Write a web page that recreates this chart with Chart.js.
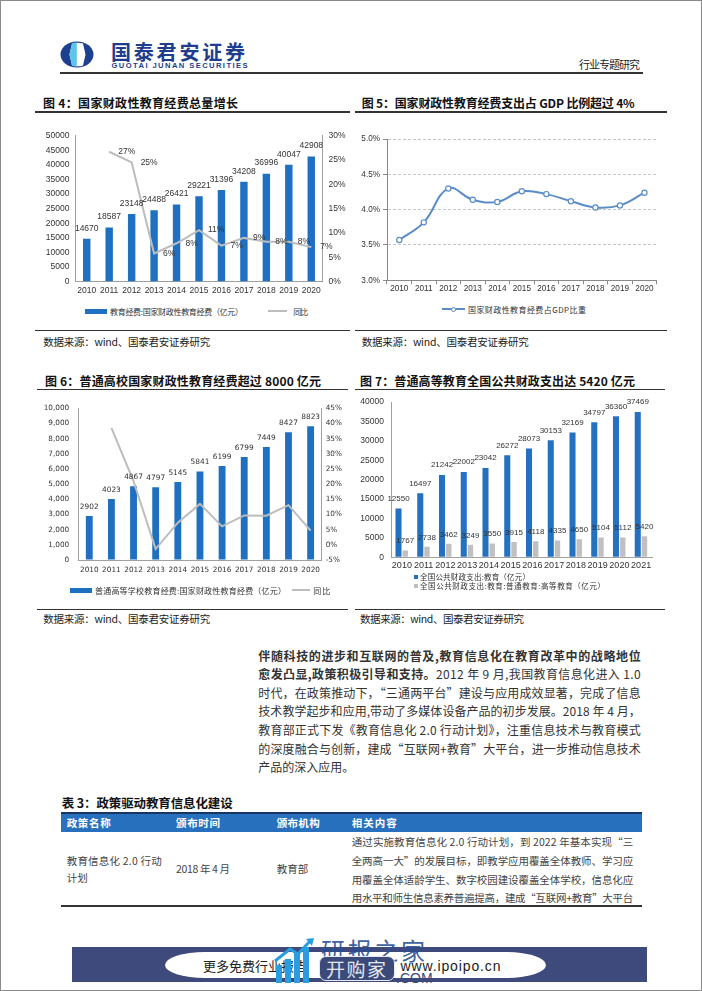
<!DOCTYPE html>
<html><head><meta charset="utf-8">
<script src="https://cdn.jsdelivr.net/npm/chart.js@4.4.1/dist/chart.umd.min.js"></script>
<style>
html,body{margin:0;padding:0;background:#fff;}
#page{position:relative;width:702px;height:991px;overflow:hidden;background:#fff;font-family:'Noto Sans CJK SC',sans-serif;}
#frame{position:absolute;left:0;top:0;width:700px;height:989px;border:1px solid #8a8a8a;pointer-events:none;z-index:50;}
.t{position:absolute;white-space:nowrap;}
canvas{position:absolute;}
</style></head><body>
<div id="page">
<div id="frame"></div>
<canvas id="c4" width="320" height="180" style="left:30px;top:120px;width:320px;height:180px"></canvas>
<canvas id="c5" width="340" height="180" style="left:355px;top:120px;width:340px;height:180px"></canvas>
<canvas id="c6" width="320" height="185" style="left:30px;top:395px;width:320px;height:185px"></canvas>
<canvas id="c7" width="340" height="185" style="left:355px;top:390px;width:340px;height:185px"></canvas>
</div>
<script>
// ---------------- DATA ----------------
const years = ['2010','2011','2012','2013','2014','2015','2016','2017','2018','2019','2020'];
const years21 = ['2010','2011','2012','2013','2014','2015','2016','2017','2018','2019','2020','2021'];
// 图4 国家财政性教育经费（亿元）与同比(%)
const eduSpend = [14670,18587,23148,24488,26421,29221,31396,34208,36996,40047,42908];
const eduSpendYoY = [null,26.7,24.5,5.8,7.9,10.6,7.4,9.0,8.2,8.2,7.1];
// 图5 国家财政性教育经费占GDP比重(%)
const gdpShare = [3.57,3.82,4.30,4.14,4.11,4.26,4.22,4.12,4.03,4.06,4.24];
// 图6 普通高等学校教育经费:国家财政性教育经费（亿元）与同比(%)
const collegeSpend = [2902,4023,4867,4797,5145,5841,6199,6799,7449,8427,8823];
const collegeYoY = [null,38.6,21.0,-1.4,7.3,13.5,6.1,9.7,9.6,13.1,4.7];
// 图7 全国公共财政支出:教育 / 高等教育（亿元）
const publicEdu = [12550,16497,21242,22002,23042,26272,28073,30153,32169,34797,36360,37469];
const publicHigher = [1767,2738,3462,3249,3550,3915,4118,4335,4650,5104,5112,5420];
// tick settings
const c4LeftTicks = {min:0,max:50000,step:5000};
const c4RightTicks = {min:0,max:30,step:5};
const c5Ticks = {min:3,max:5,step:0.5};
const c6LeftTicks = {min:0,max:10000,step:1000};
const c6RightTicks = {min:-5,max:45,step:5};
const c7Ticks = {min:0,max:40000,step:5000};

// ---------------- PAGE TEXT ----------------
const page = document.getElementById('page');
const CJK = "'Noto Sans CJK SC',sans-serif";
const LAT = "'Liberation Sans',Arial,sans-serif";
function fitW(e,w){e.style.letterSpacing='0px';const nat=e.getBoundingClientRect().width;const n=[...e.textContent].length;if(n>1)e.style.letterSpacing=((w-nat)/(n-1))+'px';}
function txt(s,x,cy,size,o={}){
  const e=document.createElement('div');e.className='t';
  const lh=Math.round(size*1.4);
  e.style.left=x+'px';e.style.top=(cy-lh/2)+'px';e.style.fontSize=size+'px';e.style.lineHeight=lh+'px';
  e.style.color=o.color||'#333';e.style.fontWeight=o.weight||400;e.style.fontFamily=o.family||CJK;
  if(o.z)e.style.zIndex=o.z;
  if(o.html)e.innerHTML=s;else e.textContent=s;
  page.appendChild(e);
  if(o.w)fitW(e,o.w);
  return e;
}
function rect(x,y,w,h,css){const e=document.createElement('div');e.style.position='absolute';e.style.left=x+'px';e.style.top=y+'px';e.style.width=w+'px';e.style.height=h+'px';Object.assign(e.style,css||{});page.appendChild(e);return e;}
function hline(x1,x2,y,th,c){return rect(x1,y-th/2,x2-x1,th,{background:c||'#333'});}

// header
const logo=document.createElement('div');logo.style.cssText='position:absolute;left:60px;top:41px;width:34px;height:27px;';
logo.innerHTML='<svg width="34" height="27" viewBox="0 0 34 27"><ellipse cx="17" cy="13.5" rx="16.5" ry="13" fill="#1d3f8f"/><path d="M12 2.5 Q17.5 0.8 23 2.5 L25.5 13.5 L23 24.5 Q17.5 26.2 12 24.5 L9.5 13.5 Z" fill="#fff"/><path d="M12 2.5 Q14.5 1.6 16.8 1.5 L16.8 25.5 Q14.5 25.4 12 24.5 L9.5 13.5 Z" fill="#5ec4ea"/></svg>';
page.appendChild(logo);
txt('国泰君安证券',111,51.5,20,{color:'#1f3d8e',weight:700,w:134});
txt('GUOTAI JUNAN SECURITIES',111.5,65.3,7.6,{color:'#1f3d8e',weight:700,family:LAT,w:136});
txt('行业专题研究',579,64,11,{color:'#222',w:61});
hline(60,643,73,1.5,'#333');

// chart titles & rules
txt('图 4：国家财政性教育经费总量增长',43,102.7,12,{weight:700,color:'#111',w:195});
txt('图 5：国家财政性教育经费支出占 GDP 比例超过 4%',361.7,102.7,12,{weight:700,color:'#111',w:273});
hline(35,350,112,1.5,'#333');hline(355,667,112,1.5,'#333');
hline(35,350,330.7,1.5,'#333');hline(355,667,330.7,1.5,'#333');
txt('数据来源：wind、国泰君安证券研究',43.3,341,10.5,{color:'#222',w:167});
txt('数据来源：wind、国泰君安证券研究',361.7,341,10.5,{color:'#222',w:167});

txt('图 6：普通高校国家财政性教育经费超过 8000 亿元',45,380,12,{weight:700,color:'#111',w:276});
txt('图 7：普通高等教育全国公共财政支出达 5420 亿元',360,380,12,{weight:700,color:'#111',w:275});
hline(36.7,348,389.3,1.5,'#333');hline(355,665,389.3,1.5,'#333');
hline(36.7,348,609.3,1.5,'#333');hline(355,665,609.3,1.5,'#333');
txt('数据来源：wind、国泰君安证券研究',43.3,618.5,10.5,{color:'#222',w:167});
txt('数据来源：wind、国泰君安证券研究',360,618.5,10.5,{color:'#222',w:164});

// legends
rect(85,309,21.7,4.5,{background:'#1f70c0'});
txt('教育经费:国家财政性教育经费（亿元）',110,311,8,{color:'#333',w:133});
hline(268,287,311,2,'#bdbdbd');
txt('同比',293.3,311,8,{color:'#333',w:15});

hline(442,465,309.3,2,'#5a8dc8');
rect(450.5,306.8,5,5,{background:'#fff',border:'1.2px solid #5a8dc8',borderRadius:'50%',boxSizing:'border-box'});
txt('国家财政性教育经费占GDP比重',468,309.3,8,{color:'#333',w:118});

rect(70,588,21.7,4.5,{background:'#1f70c0'});
txt('普通高等学校教育经费:国家财政性教育经费（亿元）',95,590.3,8,{color:'#333',w:191});
hline(291.7,310,590.3,2,'#bdbdbd');
txt('同比',313.3,590.3,8,{color:'#333',w:17});

rect(413.5,574.7,4.5,4.5,{background:'#1f70c0'});
txt('全国公共财政支出:教育（亿元）',420,576.8,7.5,{color:'#333',w:110});
rect(413.5,583.5,4.5,4.5,{background:'#bfbfbf'});
txt('全国公共财政支出:教育:普通教育:高等教育（亿元）',420,585.6,7.5,{color:'#333',w:185});

// paragraph
const paraX=258.3, paraW=382.4, paraY0=655, paraDY=18.6;
const paraLines=[
 '<b>伴随科技的进步和互联网的普及,教育信息化在教育改革中的战略地位</b>',
 '<b>愈发凸显,政策积极引导和支持。</b>2012 年 9 月,我国教育信息化进入 1.0',
 '时代，在政策推动下，“三通两平台”建设与应用成效显著，完成了信息',
 '技术教学起步和应用,带动了多媒体设备产品的初步发展。2018 年 4 月，',
 '教育部正式下发《教育信息化 2.0 行动计划》，注重信息技术与教育模式',
 '的深度融合与创新，建成“互联网+教育”大平台，进一步推动信息技术',
 '产品的深入应用。'];
paraLines.forEach((l,i)=>{const e=txt(l,paraX,paraY0+i*paraDY,12,{html:true,color:'#333'});if(i<paraLines.length-1)fitW(e,paraW);});

// table
txt('表 3：政策驱动教育信息化建设',61.7,803.3,12.5,{weight:700,color:'#111',w:171});
rect(60.7,812.2,581,19.5,{background:'#2670bd',borderTop:'2px solid #1b3563',boxSizing:'border-box'});
txt('政策名称',66.7,822.3,10.5,{weight:700,color:'#fff',w:44});
txt('颁布时间',176,822.3,10.5,{weight:700,color:'#fff',w:44});
txt('颁布机构',276.7,822.3,10.5,{weight:700,color:'#fff',w:43});
txt('相关内容',351.7,822.3,10.5,{weight:700,color:'#fff',w:45});
txt('教育信息化 2.0 行动',66.7,860.7,10.5,{color:'#444',w:95});
txt('计划',66.7,877.5,10.5,{color:'#444'});
txt('2018 年 4 月',176,868.5,10.5,{color:'#444',w:54});
txt('教育部',276.7,868.5,10.5,{color:'#444',w:31.6});
const cellLines=['通过实施教育信息化 2.0 行动计划，到 2022 年基本实现“三','全两高一大”的发展目标，即教学应用覆盖全体教师、学习应','用覆盖全体适龄学生、数字校园建设覆盖全体学校，信息化应','用水平和师生信息素养普遍提高，建成“互联网+教育”大平台'];
cellLines.forEach((l,i)=>txt(l,351.7,841.8+i*18.6,10.5,{color:'#444',w:281.6}));
hline(60.7,641.7,905.7,2,'#333');

// footer banner + watermark
rect(71.7,946.7,575,35,{background:'#3d4a7b'});
rect(165,951.5,381,26,{background:'#fff',borderRadius:'40px / 13px'});
txt('更多免费行业报告',203,966.3,13,{color:'#222'});
txt('www.ipoipo.cn',400.5,966.3,14,{color:'#222',family:LAT,w:100});
const wm=document.createElement('div');wm.style.cssText='position:absolute;left:274px;top:937px;width:42px;height:46px;z-index:5;';
wm.innerHTML='<svg width="42" height="46" viewBox="0 0 42 46"><rect x="2" y="28" width="6" height="18" fill="#2a9de0"/><rect x="11" y="22" width="6" height="24" fill="#2a9de0"/><rect x="20" y="16" width="6" height="30" fill="#2a9de0"/><rect x="29" y="10" width="6" height="36" fill="#2a9de0"/><path d="M1 24 L16 12 L24 17 L36 4" stroke="#2a9de0" stroke-width="3" fill="none"/><path d="M32 2 L40 1 L38 9 Z" fill="#2a9de0"/></svg>';
page.appendChild(wm);
txt('研报之家',321,950,24,{color:'rgba(38,78,150,0.9)',z:6,w:104});
rect(319,955.5,76,25,{background:'#3b4a7a',borderRadius:'7px',border:'1px solid #e8e8f0',boxSizing:'border-box',zIndex:7});
txt('开购家',326,968,19,{color:'#e6e8ef',z:8,w:60});
txt('.COM',396,978,14,{color:'#3b4a7a',family:LAT,z:8});

// ---------------- CHARTS ----------------
Chart.defaults.font.family = LAT;
Chart.defaults.color = '#333';
const valueLabels={id:'valueLabels',afterDatasetsDraw(chart){const ctx=chart.ctx;chart.data.datasets.forEach((ds,i)=>{const cfg=ds.valueLabel;if(!cfg)return;const meta=chart.getDatasetMeta(i);ctx.save();ctx.font=cfg.font;ctx.fillStyle=cfg.color||'#333';ctx.textAlign=cfg.align||'center';ctx.textBaseline=cfg.baseline||'middle';meta.data.forEach((el,j)=>{const v=ds.data[j];if(v==null)return;const p=el.getProps(['x','y'],true);ctx.fillText(cfg.format(v),p.x+(cfg.dx||0),p.y+(cfg.dy||0));});ctx.restore();});}};
const noGrid={display:true,drawOnChartArea:false,drawTicks:false};
const base={responsive:false,animation:false,plugins:{legend:{display:false},tooltip:{enabled:false}}};

// 图4
new Chart(document.getElementById('c4'),{type:'bar',
 data:{labels:years,datasets:[
  {type:'line',data:eduSpendYoY,yAxisID:'y1',borderColor:'#bdbdbd',borderWidth:2,pointRadius:0,tension:0,order:0,
   valueLabel:{font:'8.5px '+LAT,align:'left',dx:9,dy:0,format:v=>Math.round(v)+'%'}},
  {type:'bar',data:eduSpend,yAxisID:'y',backgroundColor:'#1f70c0',categoryPercentage:1,barPercentage:0.33,order:1,
   valueLabel:{font:'8.5px '+LAT,dy:-10.6,format:v=>String(v)}}]},
 options:{...base,layout:{padding:{top:15.7,left:0,right:0,bottom:0}},
  scales:{
   x:{grid:noGrid,border:{color:'#a0a0a0'},ticks:{font:{size:8.5},padding:4,maxRotation:0,autoSkip:false},afterFit:s=>{s.height=18.3;}},
   y:{position:'left',min:c4LeftTicks.min,max:c4LeftTicks.max,grid:noGrid,border:{color:'#a0a0a0'},ticks:{stepSize:c4LeftTicks.step,font:{size:8.5},padding:6,callback:v=>String(v)},afterFit:s=>{s.width=45.5;}},
   y1:{position:'right',min:c4RightTicks.min,max:c4RightTicks.max,grid:noGrid,border:{color:'#a0a0a0'},ticks:{stepSize:c4RightTicks.step,font:{size:8.5},padding:6,callback:v=>v+'%'},afterFit:s=>{s.width=27.5;}}}},
 plugins:[valueLabels]});

// 图5
new Chart(document.getElementById('c5'),{type:'line',
 data:{labels:years,datasets:[{data:gdpShare,borderColor:'#5a8dc8',borderWidth:2,tension:0.4,pointRadius:2.6,pointBackgroundColor:'#fff',pointBorderColor:'#5a8dc8',pointBorderWidth:1.2}]},
 options:{...base,layout:{padding:{top:19,left:0,right:38.3,bottom:0}},
  scales:{
   x:{offset:true,grid:{display:true,offset:true,drawOnChartArea:false,drawTicks:true,tickLength:4,color:'#8a8a8a'},border:{color:'#8a8a8a'},ticks:{font:{size:8.2},padding:0,maxRotation:0,autoSkip:false},afterFit:s=>{s.height=19.7;}},
   y:{min:c5Ticks.min,max:c5Ticks.max,grid:{color:'#c4c4c4',tickColor:'#8a8a8a',tickLength:4,drawTicks:true},border:{color:'#8a8a8a',dash:[3,2]},ticks:{stepSize:c5Ticks.step,font:{size:8.2},padding:3,callback:v=>v.toFixed(1)+'%'},afterFit:s=>{s.width=32;}}}}});

// 图6
new Chart(document.getElementById('c6'),{type:'bar',
 data:{labels:years,datasets:[
  {type:'line',data:collegeYoY,yAxisID:'y1',borderColor:'#bdbdbd',borderWidth:2,pointRadius:0,tension:0,order:0},
  {type:'bar',data:collegeSpend,yAxisID:'y',backgroundColor:'#1f70c0',categoryPercentage:1,barPercentage:0.31,order:1,
   valueLabel:{font:'7.4px "DejaVu Sans"',dy:-9.3,format:v=>String(v)}}]},
 options:{...base,layout:{padding:{top:11.7,left:0,right:0,bottom:0}},
  scales:{
   x:{grid:noGrid,border:{color:'#a0a0a0'},ticks:{font:{size:7.3,family:'DejaVu Sans'},padding:6,maxRotation:0,autoSkip:false},afterFit:s=>{s.height=20;}},
   y:{position:'left',min:c6LeftTicks.min,max:c6LeftTicks.max,grid:noGrid,border:{color:'#a0a0a0'},ticks:{stepSize:c6LeftTicks.step,font:{size:7.3,family:'DejaVu Sans'},padding:9,callback:v=>v.toLocaleString('en-US')},afterFit:s=>{s.width=48.2;}},
   y1:{position:'right',min:c6RightTicks.min,max:c6RightTicks.max,grid:noGrid,border:{color:'#a0a0a0'},ticks:{stepSize:c6RightTicks.step,font:{size:7.3,family:'DejaVu Sans'},padding:4,callback:v=>v+'%'},afterFit:s=>{s.width=28.3;}}}},
 plugins:[valueLabels]});

// 图7
new Chart(document.getElementById('c7'),{type:'bar',
 data:{labels:years21,datasets:[
  {data:publicEdu,backgroundColor:'#2471c1',categoryPercentage:0.62,barPercentage:0.9,
   valueLabel:{font:'8px '+LAT,dy:-9.7,format:v=>String(v)}},
  {data:publicHigher,backgroundColor:'#c0c0c0',categoryPercentage:0.62,barPercentage:0.8,
   valueLabel:{font:'8px '+LAT,dy:-9.3,format:v=>String(v)}}]},
 options:{...base,layout:{padding:{top:8.3,left:0,right:43,bottom:0}},
  scales:{
   x:{grid:noGrid,border:{color:'#a0a0a0'},ticks:{font:{size:9},padding:3,maxRotation:0,autoSkip:false},afterFit:s=>{s.height=17.7;}},
   y:{min:c7Ticks.min,max:c7Ticks.max,grid:noGrid,border:{color:'#a0a0a0'},ticks:{stepSize:c7Ticks.step,font:{size:8.5},padding:7,callback:v=>String(v)},afterFit:s=>{s.width=36;}}}},
 plugins:[valueLabels]});
</script>
</body></html>
